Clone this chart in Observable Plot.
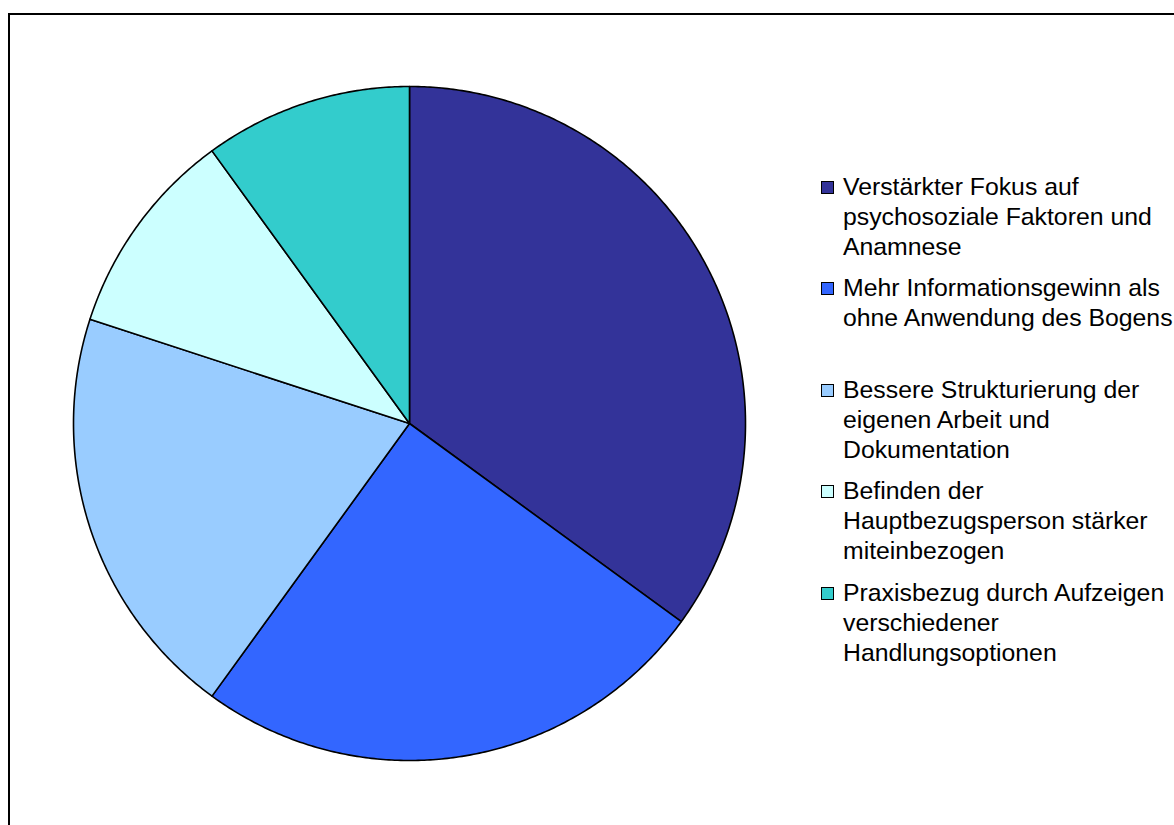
<!DOCTYPE html>
<html>
<head>
<meta charset="utf-8">
<script src="https://cdn.jsdelivr.net/npm/d3@7"></script>
<script src="https://cdn.jsdelivr.net/npm/@observablehq/plot@0.6"></script>
<style>
  html, body { margin: 0; padding: 0; background: #fff; overflow: hidden; }
  #wrap { position: relative; width: 1174px; height: 825px; overflow: hidden; }
  #frame { position: absolute; left: 8px; top: 13px; width: 2000px; height: 2000px; border: 2px solid #000; box-sizing: border-box; }
  #chart { position: absolute; left: 0; top: 0; }
  #legend { position: absolute; left: 821px; top: 171.5px; font-family: "Liberation Sans", Arial, sans-serif; font-size: 24.8px; line-height: 30px; color: #000; }
  .entry { position: relative; height: 101.5px; }
  .swatch { position: absolute; left: 0; top: 9px; width: 11px; height: 11px; border: 1px solid #000; }
  .label { position: absolute; left: 22px; top: 0; white-space: nowrap; }
</style>
</head>
<body>
<div id="wrap">
  <div id="frame"></div>
  <div id="chart"></div>
  <div id="legend"></div>
</div>
<script>
const categories = [
  "Verstärkter Fokus auf psychosoziale Faktoren und Anamnese",
  "Mehr Informationsgewinn als ohne Anwendung des Bogens",
  "Bessere Strukturierung der eigenen Arbeit und Dokumentation",
  "Befinden der Hauptbezugsperson stärker miteinbezogen",
  "Praxisbezug durch Aufzeigen verschiedener Handlungsoptionen"
];
const values = [35, 25, 20, 10, 10];
const colors = ["#333399", "#3366FF", "#99CCFF", "#CCFFFF", "#33CCCC"];
const legendLines = [
  ["Verstärkter Fokus auf", "psychosoziale Faktoren und", "Anamnese"],
  ["Mehr Informationsgewinn als", "ohne Anwendung des Bogens"],
  ["Bessere Strukturierung der", "eigenen Arbeit und", "Dokumentation"],
  ["Befinden der", "Hauptbezugsperson stärker", "miteinbezogen"],
  ["Praxisbezug durch Aufzeigen", "verschiedener", "Handlungsoptionen"]
];

// Build slice outlines from the values (angles measured clockwise from 12 o'clock)
const total = d3.sum(values);
const pts = [];
let acc = 0;
categories.forEach((c, i) => {
  const a0 = acc / total * 2 * Math.PI;
  acc += values[i];
  const a1 = acc / total * 2 * Math.PI;
  const n = Math.max(2, Math.ceil((a1 - a0) / (Math.PI / 360)));
  pts.push({cat: c, x: 0, y: 0});
  for (let k = 0; k <= n; k++) {
    const a = a0 + (a1 - a0) * k / n;
    pts.push({cat: c, x: Math.sin(a), y: Math.cos(a)});
  }
  pts.push({cat: c, x: 0, y: 0});
});

const chart = Plot.plot({
  width: 1174,
  height: 825,
  marginLeft: 73,
  marginRight: 429,
  marginTop: 86,
  marginBottom: 65,
  x: {domain: [-1, 1], axis: null},
  y: {domain: [-1, 1], axis: null},
  color: {domain: categories, range: colors},
  style: {background: "transparent"},
  marks: [
    Plot.line(pts, {x: "x", y: "y", z: "cat", fill: "cat", stroke: "#000", strokeWidth: 1.6, strokeLinejoin: "round"})
  ]
});
document.getElementById("chart").appendChild(chart);

const legend = document.getElementById("legend");
categories.forEach((c, i) => {
  const e = document.createElement("div");
  e.className = "entry";
  const s = document.createElement("div");
  s.className = "swatch";
  s.style.background = colors[i];
  const l = document.createElement("div");
  l.className = "label";
  l.innerHTML = legendLines[i].join("<br>");
  e.appendChild(s);
  e.appendChild(l);
  legend.appendChild(e);
});
</script>
</body>
</html>
